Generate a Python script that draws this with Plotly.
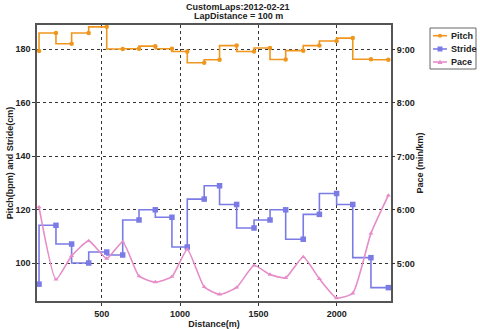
import plotly.graph_objects as go

# Cumulative distance at the end of each lap (m)
distance = [100, 208, 308, 417, 532, 634, 738, 842, 948, 1046, 1154,
            1252, 1361, 1472, 1574, 1674, 1786, 1889, 1999, 2102, 2218, 2329]
# Cadence per lap (bpm)
pitch = [179.4, 186.1, 182.1, 186.1, 188.4, 180.1, 180.2, 181.2, 180.2, 179.2, 175.0,
         176.1, 181.4, 179.2, 180.5, 176.2, 179.5, 181.4, 183.1, 184.2, 176.3, 176.1]
# Stride length per lap (cm)
stride = [92.2, 114.2, 107.2, 100.1, 104.2, 103.1, 116.2, 120.0, 117.2, 106.1, 124.0,
          129.0, 122.0, 113.2, 116.2, 120.0, 109.0, 118.3, 126.1, 122.0, 102.1, 90.9]
# Pace per lap (min/km, decimal minutes)
pace = [6.05, 4.70, 5.14, 5.42, 5.09, 5.40, 4.76, 4.65, 4.75, 5.26, 4.56,
        4.42, 4.55, 4.96, 4.79, 4.73, 5.12, 4.71, 4.35, 4.44, 5.56, 6.27]

pace_ticks = [5, 6, 7, 8, 9]
pace_labels = ["5:00", "6:00", "7:00", "8:00", "9:00"]
left_ticks = [100, 120, 140, 160, 180]
x_ticks = [500, 1000, 1500, 2000]
series_names = ["Pitch", "Stride", "Pace"]

FONT = dict(family="Liberation Sans, Arial, sans-serif", size=9, color="#222", weight="bold")
ORANGE = "#f0961e"
BLUE = "#7b7be6"
PINK = "#e68cc8"

W, H = 480, 329
ML, MR, MT, MB = 37, 89, 25, 28
PW, PH = W - ML - MR, H - MT - MB


def px_x(px):
    """Convert a pixel column to paper x."""
    return (px - ML) / PW


def px_y(py):
    """Convert a pixel row (from top) to paper y."""
    return (H - MB - py) / PH


fig = go.Figure()
fig.add_trace(go.Scatter(
    x=distance, y=pitch, name="Pitch", mode="lines+markers",
    line=dict(color=ORANGE, width=1.6, shape="vh"),
    marker=dict(symbol="circle", size=4.5, color=ORANGE)))
fig.add_trace(go.Scatter(
    x=distance, y=stride, name="Stride", mode="lines+markers",
    line=dict(color=BLUE, width=1.6, shape="vh"),
    marker=dict(symbol="square", size=5.5, color=BLUE)))
fig.add_trace(go.Scatter(
    x=distance, y=pace, name="Pace", mode="lines+markers", yaxis="y2",
    line=dict(color=PINK, width=1.6, shape="spline", smoothing=0.5),
    marker=dict(symbol="triangle-up", size=4.5, color=PINK)))

# Compact legend box drawn with shapes (the native legend is too wide for the margin)
shapes = [dict(type="rect", xref="paper", yref="paper",
               x0=px_x(430), x1=px_x(476), y0=px_y(69), y1=px_y(28),
               line=dict(color="#666", width=1), fillcolor="white", layer="above")]
annotations = []
colors = [ORANGE, BLUE, PINK]
rows = [35.7, 49, 62]
for name, col, row in zip(series_names, colors, rows):
    shapes.append(dict(type="line", xref="paper", yref="paper",
                       x0=px_x(433), x1=px_x(447), y0=px_y(row), y1=px_y(row),
                       line=dict(color=col, width=1.6), layer="above"))
    cx, cy = 440, row
    if name == "Pitch":
        shapes.append(dict(type="circle", xref="paper", yref="paper",
                           x0=px_x(cx - 2), x1=px_x(cx + 2), y0=px_y(cy + 2), y1=px_y(cy - 2),
                           line=dict(width=0), fillcolor=col, layer="above"))
    elif name == "Stride":
        shapes.append(dict(type="rect", xref="paper", yref="paper",
                           x0=px_x(cx - 2.5), x1=px_x(cx + 2.5), y0=px_y(cy + 2.5), y1=px_y(cy - 2.5),
                           line=dict(width=0), fillcolor=col, layer="above"))
    else:
        path = (f"M {px_x(cx - 2.5)} {px_y(cy + 2)} L {px_x(cx + 2.5)} {px_y(cy + 2)} "
                f"L {px_x(cx)} {px_y(cy - 2.5)} Z")
        shapes.append(dict(type="path", xref="paper", yref="paper", path=path,
                           line=dict(width=0), fillcolor=col, layer="above"))
    annotations.append(dict(text=name, xref="paper", yref="paper",
                            x=px_x(449), y=px_y(row), xanchor="left", yanchor="middle",
                            showarrow=False, font=FONT))

# Two-line chart title
annotations.append(dict(text="CustomLaps:2012-02-21", xref="paper", yref="paper",
                        x=px_x(238), y=px_y(6.5), xanchor="center", yanchor="middle",
                        showarrow=False, font=FONT))
annotations.append(dict(text="LapDistance = 100 m", xref="paper", yref="paper",
                        x=px_x(238), y=px_y(16.5), xanchor="center", yanchor="middle",
                        showarrow=False, font=FONT))

fig.update_layout(
    width=W, height=H,
    margin=dict(l=ML, r=MR, t=MT, b=MB, autoexpand=False),
    paper_bgcolor="white", plot_bgcolor="white",
    font=FONT,
    showlegend=False,
    shapes=shapes,
    annotations=annotations,
    xaxis=dict(range=[87, 2346], tickvals=x_ticks, showgrid=True,
               gridcolor="#333", griddash="dot", gridwidth=1,
               showline=True, linecolor="#555", linewidth=1.5, mirror=True,
               ticks="outside", ticklen=3, tickcolor="#333", zeroline=False,
               title=dict(text="Distance(m)", standoff=4, font=FONT)),
    yaxis=dict(range=[85.9, 189.1], tickvals=left_ticks, showgrid=True,
               gridcolor="#333", griddash="dot", gridwidth=1,
               showline=True, linecolor="#555", linewidth=1.5, mirror=True,
               ticks="outside", ticklen=3, tickcolor="#333", zeroline=False,
               title=dict(text="Pitch(bpm) and Stride(cm)", standoff=0, font=FONT)),
    yaxis2=dict(range=[4.296, 9.457], overlaying="y", side="right",
                tickvals=pace_ticks, ticktext=pace_labels, showgrid=False,
                ticks="outside", ticklen=3, tickcolor="#333", zeroline=False,
                showline=False,
                title=dict(text="Pace (min/km)", standoff=2, font=FONT)),
)

fig.write_html("out.html")
